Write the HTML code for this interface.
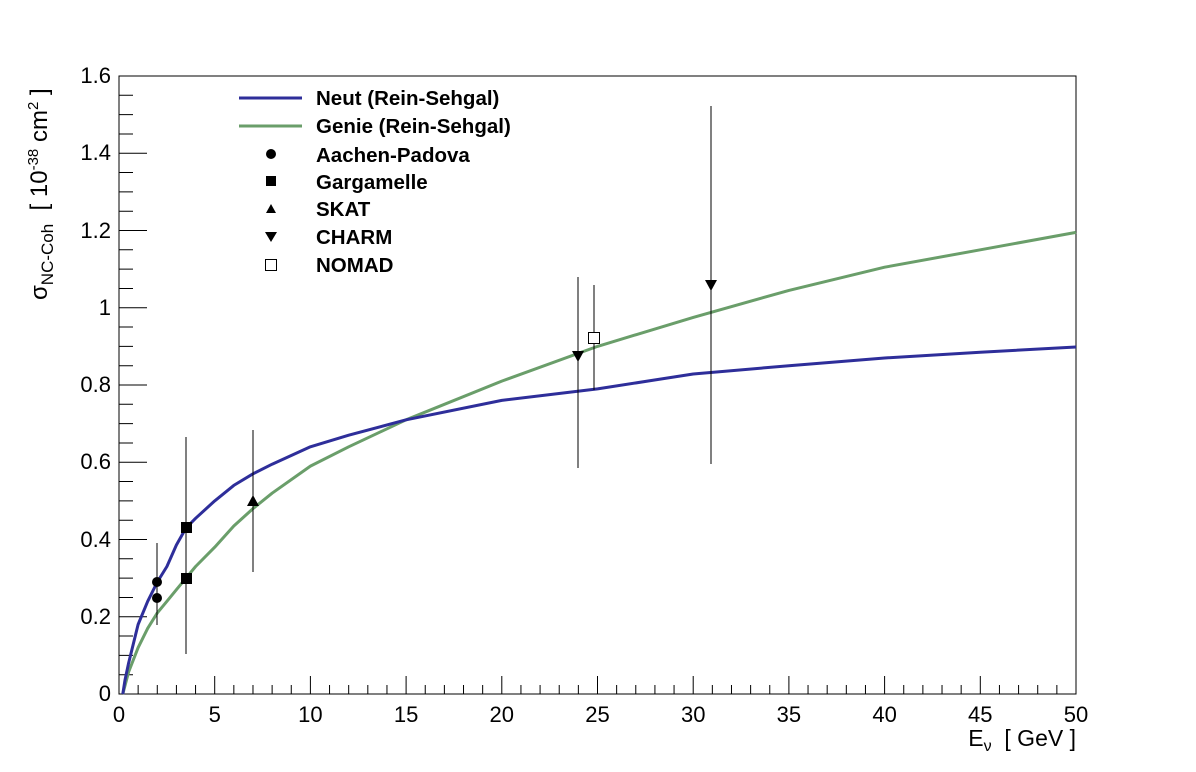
<!DOCTYPE html>
<html><head><meta charset="utf-8"><style>body{margin:0;background:#fff}svg{display:block}text{font-family:"Liberation Sans",sans-serif}</style></head><body>
<svg width="1196" height="772" xmlns="http://www.w3.org/2000/svg">
<rect width="1196" height="772" fill="#fff"/>
<rect x="119" y="76" width="957" height="618" fill="none" stroke="#000" stroke-width="1"/>
<path stroke="#000" stroke-width="1" fill="none" d="
M119 694v-18 M138.14 694v-9 M157.28 694v-9 M176.42 694v-9 M195.56 694v-9 M214.7 694v-18 M233.84 694v-9 M252.98 694v-9 M272.12 694v-9 M291.26 694v-9
M310.4 694v-18 M329.54 694v-9 M348.68 694v-9 M367.82 694v-9 M386.96 694v-9 M406.1 694v-18 M425.24 694v-9 M444.38 694v-9 M463.52 694v-9 M482.66 694v-9
M501.8 694v-18 M520.94 694v-9 M540.08 694v-9 M559.22 694v-9 M578.36 694v-9 M597.5 694v-18 M616.64 694v-9 M635.78 694v-9 M654.92 694v-9 M674.06 694v-9
M693.2 694v-18 M712.34 694v-9 M731.48 694v-9 M750.62 694v-9 M769.76 694v-9 M788.9 694v-18 M808.04 694v-9 M827.18 694v-9 M846.32 694v-9 M865.46 694v-9
M884.6 694v-18 M903.74 694v-9 M922.88 694v-9 M942.02 694v-9 M961.16 694v-9 M980.3 694v-18 M999.44 694v-9 M1018.58 694v-9 M1037.72 694v-9 M1056.86 694v-9
M119 694h28 M119 674.69h14 M119 655.38h14 M119 636.06h14 M119 616.75h28 M119 597.44h14 M119 578.13h14 M119 558.81h14 M119 539.5h28 M119 520.19h14
M119 500.88h14 M119 481.56h14 M119 462.25h28 M119 442.94h14 M119 423.63h14 M119 404.31h14 M119 385h28 M119 365.69h14 M119 346.38h14 M119 327.06h14
M119 307.75h28 M119 288.44h14 M119 269.13h14 M119 249.81h14 M119 230.5h28 M119 211.19h14 M119 191.88h14 M119 172.56h14 M119 153.25h28 M119 133.94h14
M119 114.63h14 M119 95.31h14"/>
<g font-size="22" text-anchor="middle">
<text x="119" y="722">0</text><text x="214.7" y="722">5</text><text x="310.4" y="722">10</text><text x="406.1" y="722">15</text><text x="501.8" y="722">20</text><text x="597.5" y="722">25</text><text x="693.2" y="722">30</text><text x="788.9" y="722">35</text><text x="884.6" y="722">40</text><text x="980.3" y="722">45</text><text x="1076" y="722">50</text>
</g>
<g font-size="22" text-anchor="end">
<text x="111" y="701">0</text><text x="111" y="624">0.2</text><text x="111" y="547">0.4</text><text x="111" y="469">0.6</text><text x="111" y="392">0.8</text><text x="111" y="315">1</text><text x="111" y="238">1.2</text><text x="111" y="160">1.4</text><text x="111" y="83">1.6</text>
</g>
<text x="1076" y="746" font-size="23" text-anchor="end">E<tspan font-size="16" dy="5">ν</tspan><tspan dy="-5" xml:space="preserve">  [ GeV ]</tspan></text>
<text transform="translate(47,300) rotate(-90)" font-size="24" xml:space="preserve">σ<tspan font-size="17" dy="6">NC-Coh</tspan><tspan dy="-6">  [ 10</tspan><tspan font-size="15" dy="-9">-38</tspan><tspan dy="9"> cm</tspan><tspan font-size="15" dy="-9">2</tspan><tspan dy="9"> ]</tspan></text>
<polyline fill="none" stroke="#6a9e6a" stroke-width="3" stroke-linejoin="round" points="122.8,694 128.6,672 138.1,647.7 147.7,628.3 157.3,612.9 166.9,601.3 176.4,589.7 186,578.1 195.6,566.5 214.7,547.2 233.8,526 253,508.6 272.1,493.2 310.4,466.1 348.7,446.8 406.1,419.8 501.8,381.1 597.5,346.4 693.2,317.4 788.9,290.4 884.6,267.2 980.3,249.8 1076,232.4"/>
<polyline fill="none" stroke="#2e2e9a" stroke-width="3" stroke-linejoin="round" points="122.8,694 125,680 128.6,663.1 138.1,624.5 147.7,601.3 157.3,582 166.9,566.5 176.4,545 186,528 195.6,518.3 214.7,500.9 233.8,485.4 253,473.8 272.1,464.2 310.4,446.8 348.7,435.2 406.1,419.8 501.8,400.4 597.5,388.9 693.2,374 788.9,365.7 884.6,358 980.3,352.2 1076,347"/>
<g stroke="#000" stroke-width="1">
<line x1="157" y1="543" x2="157" y2="625"/><line x1="186" y1="437" x2="186" y2="620"/><line x1="186" y1="504" x2="186" y2="654"/>
<line x1="253" y1="430" x2="253" y2="572"/><line x1="578" y1="277" x2="578" y2="468"/><line x1="594" y1="285" x2="594" y2="390"/><line x1="711" y1="106" x2="711" y2="464"/>
</g>
<g fill="#000">
<circle cx="157" cy="582" r="5"/><circle cx="157" cy="598" r="5"/>
<rect x="181" y="522" width="11" height="11"/><rect x="181" y="573" width="11" height="11"/>
<polygon points="253,495 259,506 247,506"/>
<polygon points="572,351 584,351 578,362"/><polygon points="705,280 717,280 711,291"/>
</g>
<rect x="588.5" y="332.5" width="11" height="11" fill="#fff" stroke="#000"/>
<g font-size="20.5" font-weight="bold">
<line x1="239" y1="98" x2="302" y2="98" stroke="#2e2e9a" stroke-width="3"/><text x="316" y="105">Neut (Rein-Sehgal)</text>
<line x1="239" y1="126" x2="302" y2="126" stroke="#6a9e6a" stroke-width="3"/><text x="316" y="133">Genie (Rein-Sehgal)</text>
<circle cx="271" cy="154" r="5"/><text x="316" y="162">Aachen-Padova</text>
<rect x="266" y="176" width="10" height="10"/><text x="316" y="189">Gargamelle</text>
<polygon points="271,204 276,213 266,213"/><text x="316" y="216">SKAT</text>
<polygon points="265,232 277,232 271,242"/><text x="316" y="244">CHARM</text>
<rect x="265.5" y="259.5" width="11" height="11" fill="#fff" stroke="#000"/><text x="316" y="272">NOMAD</text>
</g>
</svg>
</body></html>
